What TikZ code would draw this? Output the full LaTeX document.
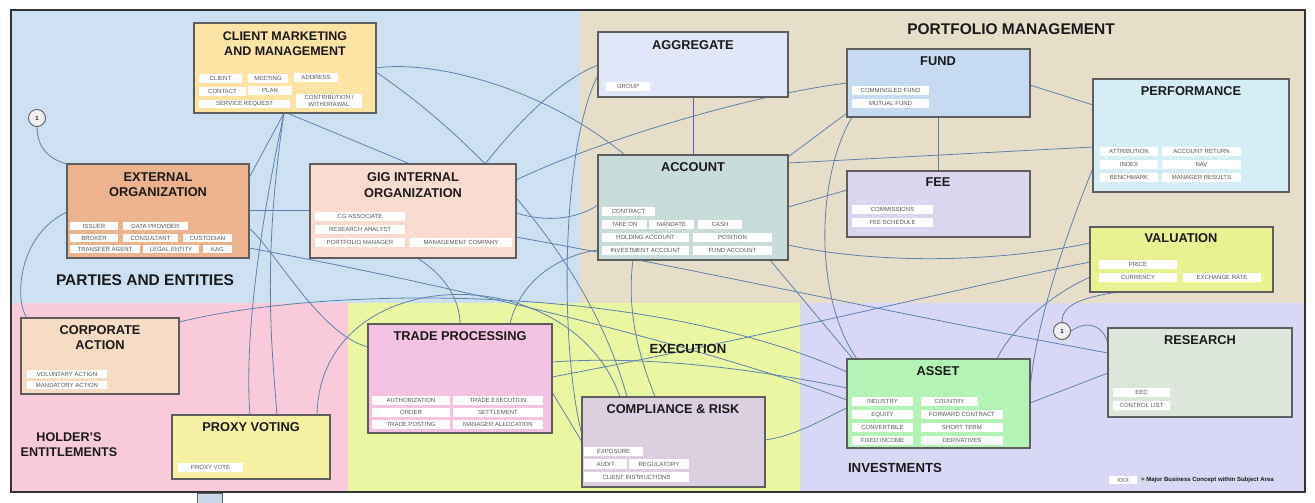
\documentclass[tikz,border=0pt]{standalone}
\usepackage{fontspec}
\setmainfont{Liberation Sans}
\usetikzlibrary{calc}
\definecolor{bgparty}{HTML}{CDE0F2}
\definecolor{bgport}{HTML}{E7DECA}
\definecolor{bghold}{HTML}{F9CBDA}
\definecolor{bgexec}{HTML}{EBF6A3}
\definecolor{bginv}{HTML}{D8D8F6}
\definecolor{frame}{HTML}{333333}
\definecolor{boxline}{HTML}{5E5E5E}
\definecolor{titlec}{HTML}{1A1A1A}
\definecolor{itemc}{HTML}{555555}
\definecolor{linec}{HTML}{5D82AD}
\definecolor{linep}{HTML}{6A5AAE}
\definecolor{fcmm}{HTML}{FDE4A5}
\definecolor{fext}{HTML}{EDB38F}
\definecolor{fgig}{HTML}{F9DCCF}
\definecolor{fagg}{HTML}{DFE7F8}
\definecolor{facc}{HTML}{C8DCD9}
\definecolor{ffund}{HTML}{C6DAF2}
\definecolor{ffee}{HTML}{DCD5EE}
\definecolor{fperf}{HTML}{D5EEF6}
\definecolor{fval}{HTML}{E9F290}
\definecolor{fres}{HTML}{DCE6DA}
\definecolor{fasset}{HTML}{B3F3B5}
\definecolor{fcorp}{HTML}{F5DCC2}
\definecolor{fproxy}{HTML}{F6F1A3}
\definecolor{ftrade}{HTML}{F4C3E3}
\definecolor{fcomp}{HTML}{DCD0E0}
\definecolor{ftab}{HTML}{C9D9E8}
\pgfdeclarelayer{back}
\pgfdeclarelayer{lines}
\pgfsetlayers{back,lines,main}
\tikzset{
  bigbox/.style={draw=boxline, line width=1.2pt, inner sep=0pt, outer sep=0pt},
  ttl/.style={font=\bfseries\fontsize{12.8}{15.5}\selectfont, text=titlec, align=center, inner sep=0pt},
  itm/.style={fill=white, inner sep=0pt, font=\fontsize{6}{6.6}\selectfont, text=itemc, align=center},
  con/.style={draw=linec, line width=0.8pt},
  conp/.style={draw=linep, line width=1pt},
  reg/.style={font=\bfseries\fontsize{15.5}{18}\selectfont, text=titlec, inner sep=0pt},
  regs/.style={font=\bfseries\fontsize{13.2}{15.5}\selectfont, text=titlec, inner sep=0pt, align=center},
  onecirc/.style={circle, draw=boxline, fill=white!95!black, line width=0.9pt, minimum size=17pt, inner sep=0pt, font=\bfseries\fontsize{6}{6}\selectfont, text=titlec},
}
\newcounter{itc}
\newcommand\bbx[6]{\node[bigbox, fill=#6, minimum width=#3pt-#1pt, minimum height=#4pt-#2pt] (#5) at ({(#1+#3)/2},{(#2+#4)/2}) {};}
\newcommand\itx[5]{\stepcounter{itc}\node[itm, minimum width=#3pt-#1pt, minimum height=#4pt-#2pt] (it\arabic{itc}) at ({(#1+#3)/2},{(#2+#4)/2}) {#5};}
\begin{document}
\begin{tikzpicture}[x=1pt,y=-1pt]
\useasboundingbox (0,0) rectangle (1315,503);
\begin{pgfonlayer}{back}
\fill[white] (0,0) rectangle (1315,503);
\fill[bgparty] (11,10) rectangle (580,303);
\fill[bgport] (580,10) rectangle (1305,303);
\fill[bghold] (11,303) rectangle (348,492);
\fill[bgexec] (348,303) rectangle (800,492);
\fill[bginv] (800,303) rectangle (1305,492);
\draw[frame, line width=2pt] (11,10) rectangle (1305,492);
\end{pgfonlayer}
\node[bigbox, fill=ftab, line width=0.8pt, minimum width=25pt, minimum height=10pt] (tab) at (209.5,498) {};

% region labels
\node[reg] (lpa) at (145,280) {PARTIES AND ENTITIES};
\node[reg] (lpm) at (1011,29) {PORTFOLIO MANAGEMENT};
\node[regs, font=\bfseries\fontsize{12.6}{15}\selectfont] (lhe) at (69,444.5) {HOLDER'S\\ENTITLEMENTS};
\node[regs] (lex) at (688,349) {EXECUTION};
\node[regs] (lin) at (895,468) {INVESTMENTS};

% boxes
\bbx{194}{23}{376}{113}{cmm}{fcmm}
\bbx{67}{164}{249}{258}{ext}{fext}
\bbx{310}{164}{516}{258}{gig}{fgig}
\bbx{598}{32}{788}{97}{agg}{fagg}
\bbx{598}{155}{788}{260}{acc}{facc}
\bbx{847}{49}{1030}{117}{fund}{ffund}
\bbx{847}{171}{1030}{237}{fee}{ffee}
\bbx{1093}{79}{1289}{192}{perf}{fperf}
\bbx{1090}{227}{1273}{292}{val}{fval}
\bbx{1108}{328}{1292}{417}{res}{fres}
\bbx{847}{359}{1030}{448}{asset}{fasset}
\bbx{21}{318}{179}{394}{corp}{fcorp}
\bbx{172}{415}{330}{479}{proxy}{fproxy}
\bbx{368}{324}{552}{433}{trade}{ftrade}
\bbx{582}{397}{765}{487}{comp}{fcomp}

% titles
\node[ttl, font=\bfseries\fontsize{12.5}{15.5}\selectfont] (tcmm) at (285,43.5) {CLIENT MARKETING\\AND MANAGEMENT};
\node[ttl] (text) at (158,184.5) {EXTERNAL\\ORGANIZATION};
\node[ttl] (tgig) at (413,185) {GIG INTERNAL\\ORGANIZATION};
\node[ttl] (tagg) at (693,45) {AGGREGATE};
\node[ttl] (tacc) at (693,167) {ACCOUNT};
\node[ttl] (tfund) at (938,61) {FUND};
\node[ttl] (tfee) at (938,182) {FEE};
\node[ttl] (tperf) at (1191,91) {PERFORMANCE};
\node[ttl] (tval) at (1181,238) {VALUATION};
\node[ttl] (tres) at (1200,340) {RESEARCH};
\node[ttl] (tasset) at (938,371) {ASSET};
\node[ttl] (tcorp) at (100,337.5) {CORPORATE\\ACTION};
\node[ttl] (tproxy) at (251,427) {PROXY VOTING};
\node[ttl] (ttrade) at (460,336) {TRADE PROCESSING};
\node[ttl] (tcomp) at (673,409) {COMPLIANCE \& RISK};

% items
\itx{199}{74}{242}{83}{CLIENT}
\itx{248}{74}{288}{83}{MEETING}
\itx{294}{73}{338}{82}{ADDRESS}
\itx{199}{87}{246}{96}{CONTACT}
\itx{248}{86}{292}{95}{PLAN}
\itx{199}{100}{290}{108}{SERVICE REQUEST}
\itx{296}{94}{362}{108}{CONTRIBUTION /\\WITHDRAWAL}

\itx{70}{222}{118}{230}{ISSUER}
\itx{123}{222}{188}{230}{DATA PROVIDER}
\itx{70}{234}{118}{242}{BROKER}
\itx{123}{234}{178}{242}{CONSULTANT}
\itx{183}{234}{232}{242}{CUSTODIAN}
\itx{70}{245}{140}{253}{TRANSFER AGENT}
\itx{143}{245}{199}{253}{LEGAL ENTITY}
\itx{203}{245}{232}{253}{KAG}

\itx{315}{212}{405}{221}{CG ASSOCIATE}
\itx{315}{225}{405}{234}{RESEARCH ANALYST}
\itx{315}{238}{405}{247}{PORTFOLIO MANAGER}
\itx{410}{238}{512}{247}{MANAGEMENT COMPANY}

\itx{606}{82}{650}{91}{GROUP}

\itx{602}{207}{655}{216}{CONTRACT}
\itx{602}{220}{647}{229}{TAKE ON}
\itx{649}{220}{694}{229}{MANDATE}
\itx{698}{220}{742}{229}{CASH}
\itx{602}{233}{689}{242}{HOLDING ACCOUNT}
\itx{693}{233}{772}{242}{POSITION}
\itx{602}{246}{689}{255}{INVESTMENT ACCOUNT}
\itx{693}{246}{772}{255}{FUND ACCOUNT}

\itx{852}{86}{929}{95}{COMMINGLED FUND}
\itx{852}{99}{929}{108}{MUTUAL FUND}

\itx{852}{205}{933}{214}{COMMISSIONS}
\itx{852}{218}{933}{227}{FEE SCHEDULE}

\itx{1100}{147}{1158}{156}{ATTRIBUTION}
\itx{1162}{147}{1241}{156}{ACCOUNT RETURN}
\itx{1100}{160}{1158}{169}{INDEX}
\itx{1162}{160}{1241}{169}{NAV}
\itx{1100}{173}{1158}{182}{BENCHMARK}
\itx{1162}{173}{1241}{182}{MANAGER RESULTS}

\itx{1099}{260}{1177}{269}{PRICE}
\itx{1099}{273}{1177}{282}{CURRENCY}
\itx{1183}{273}{1261}{282}{EXCHANGE RATE}

\itx{1113}{388}{1170}{397}{EED}
\itx{1113}{401}{1170}{410}{CONTROL LIST}

\itx{852}{397}{913}{406}{INDUSTRY}
\itx{921}{397}{978}{406}{COUNTRY}
\itx{852}{410}{913}{419}{EQUITY}
\itx{921}{410}{1003}{419}{FORWARD CONTRACT}
\itx{852}{423}{913}{432}{CONVERTIBLE}
\itx{921}{423}{1003}{432}{SHORT TERM}
\itx{852}{436}{913}{445}{FIXED INCOME}
\itx{921}{436}{1003}{445}{DERIVATIVES}

\itx{27}{370}{107}{378}{VOLUNTARY ACTION}
\itx{27}{381}{107}{389}{MANDATORY ACTION}

\itx{178}{463}{243}{472}{PROXY VOTE}

\itx{372}{396}{450}{405}{AUTHORIZATION}
\itx{453}{396}{543}{405}{TRADE EXECUTION}
\itx{372}{408}{450}{417}{ORDER}
\itx{453}{408}{543}{417}{SETTLEMENT}
\itx{372}{420}{450}{429}{TRADE POSTING}
\itx{453}{420}{543}{429}{MANAGER ALLOCATION}

\itx{584}{447}{643}{456}{EXPOSURE}
\itx{584}{459}{627}{469}{AUDIT}
\itx{629}{459}{689}{469}{REGULATORY}
\itx{584}{472}{689}{482}{CLIENT INSTRUCTIONS}

% legend
\itx{1109}{476}{1137}{484}{XXX}
\node[anchor=west, inner sep=0pt, font=\bfseries\fontsize{6}{7}\selectfont, text=titlec] (legt) at (1141,480) {= Major Business Concept within Subject Area};

% circles
\node[onecirc] (c1) at (37,118) {1};
\node[onecirc] (c2) at (1062,331) {1};

% connectors
\begin{pgfonlayer}{lines}
\draw[con] (c1.south) .. controls (37,150) and (52,160) .. (ext.north west);
\draw[con] ([shift={(0,48)}]ext.north west) .. controls (18,235) and (14,300) .. ([shift={(6,0)}]corp.north west);
\draw[con] ([shift={(158,4)}]corp.north west) .. controls (330,285) and (650,283) .. ([shift={(0,13)}]asset.north west);
\draw[con] ([shift={(182,46)}]ext.north west) -- ([shift={(0,46)}]gig.north west);
\draw[con] ([shift={(90,90)}]cmm.north west) -- ([shift={(182,14)}]ext.north west);
\draw[con] ([shift={(90,90)}]cmm.north west) .. controls (255,250) and (245,350) .. ([shift={(78,0)}]proxy.north west);
\draw[con] ([shift={(90,90)}]cmm.north west) .. controls (262,260) and (272,350) .. ([shift={(105,0)}]proxy.north west);
\draw[con] ([shift={(93,90)}]cmm.north west) -- ([shift={(100,0)}]gig.north west);
\draw[con] ([shift={(182,45)}]cmm.north west) .. controls (430,60) and (540,85) .. ([shift={(27,0)}]acc.north west);
\draw[con] ([shift={(182,49)}]cmm.north west) .. controls (476,140) and (590,260) .. ([shift={(45,0)}]comp.north west);
\draw[con] ([shift={(175,0)}]gig.north west) .. controls (520,120) and (560,80) .. ([shift={(0,33)}]agg.north west);
\draw[con] ([shift={(0,43)}]agg.north west) .. controls (560,150) and (560,350) .. ([shift={(0,38)}]comp.north west);
\draw[con] ([shift={(206,16)}]gig.north west) .. controls (600,140) and (750,95) .. ([shift={(0,34)}]fund.north west);
\draw[con] ([shift={(206,49)}]gig.north west) .. controls (545,222) and (575,220) .. ([shift={(0,50)}]acc.north west);
\draw[con] ([shift={(206,73)}]gig.north west) .. controls (700,270) and (900,315) .. ([shift={(0,25)}]res.north west);
\draw[con] ([shift={(182,64)}]ext.north west) .. controls (275,250) and (320,335) .. ([shift={(0,23)}]trade.north west);
\draw[con] ([shift={(182,84)}]ext.north west) .. controls (450,285) and (700,345) .. ([shift={(0,41)}]asset.north west);
\draw[con] ([shift={(107,94)}]gig.north west) .. controls (445,275) and (460,300) .. ([shift={(92,0)}]trade.north west);
\draw[con] ([shift={(142,0)}]trade.north west) .. controls (520,280) and (560,255) .. ([shift={(0,95)}]acc.north west);
\draw[con] ([shift={(145,0)}]proxy.north west) .. controls (320,260) and (570,255) .. ([shift={(38,0)}]comp.north west);
\draw[con] ([shift={(184,38)}]trade.north west) .. controls (650,355) and (760,370) .. ([shift={(0,29)}]asset.north west);
\draw[con] ([shift={(184,53)}]trade.north west) .. controls (750,340) and (950,290) .. ([shift={(0,35)}]val.north west);
\draw[con] ([shift={(184,68)}]trade.north west) -- ([shift={(0,45)}]comp.north west);
\draw[con] ([shift={(35,105)}]acc.north west) .. controls (625,320) and (645,370) .. ([shift={(73,0)}]comp.north west);
\draw[con] ([shift={(183,43)}]comp.north west) .. controls (800,435) and (830,415) .. ([shift={(0,49)}]asset.north west);
\draw[conp] (agg.south) -- (acc.north);
\draw[con] ([shift={(190,2)}]acc.north west) -- ([shift={(0,64)}]fund.north west);
\draw[con] ([shift={(190,8)}]acc.north west) -- ([shift={(0,68)}]perf.north west);
\draw[con] ([shift={(190,52)}]acc.north west) -- ([shift={(0,19)}]fee.north west);
\draw[con] ([shift={(190,90)}]acc.north west) .. controls (880,265) and (1000,262) .. ([shift={(0,16)}]val.north west);
\draw[con] ([shift={(172,105)}]acc.north west) -- ([shift={(6,0)}]asset.north west);
\draw[con] ([shift={(5,68)}]fund.north west) .. controls (815,180) and (815,300) .. ([shift={(10,0)}]asset.north west);
\draw[con] ([shift={(183,36)}]fund.north west) -- ([shift={(0,26)}]perf.north west);
\draw[con] (fund.south) -- (fee.north);
\draw[con] ([shift={(0,89)}]perf.north west) .. controls (1060,250) and (1035,330) .. ([shift={(183,31)}]asset.north west);
\draw[con] ([shift={(0,50)}]val.north west) .. controls (1050,295) and (1010,330) .. ([shift={(150,0)}]asset.north west);
\draw[con] ([shift={(28,65)}]val.north west) .. controls (1080,298) and (1062,305) .. (c2.north);
\draw[con] (c2.east) .. controls (1090,318) and (1105,328) .. ([shift={(0,17)}]res.north west);
\draw[con] ([shift={(183,44)}]asset.north west) -- ([shift={(0,45)}]res.north west);
\end{pgfonlayer}
\end{tikzpicture}
\end{document}
